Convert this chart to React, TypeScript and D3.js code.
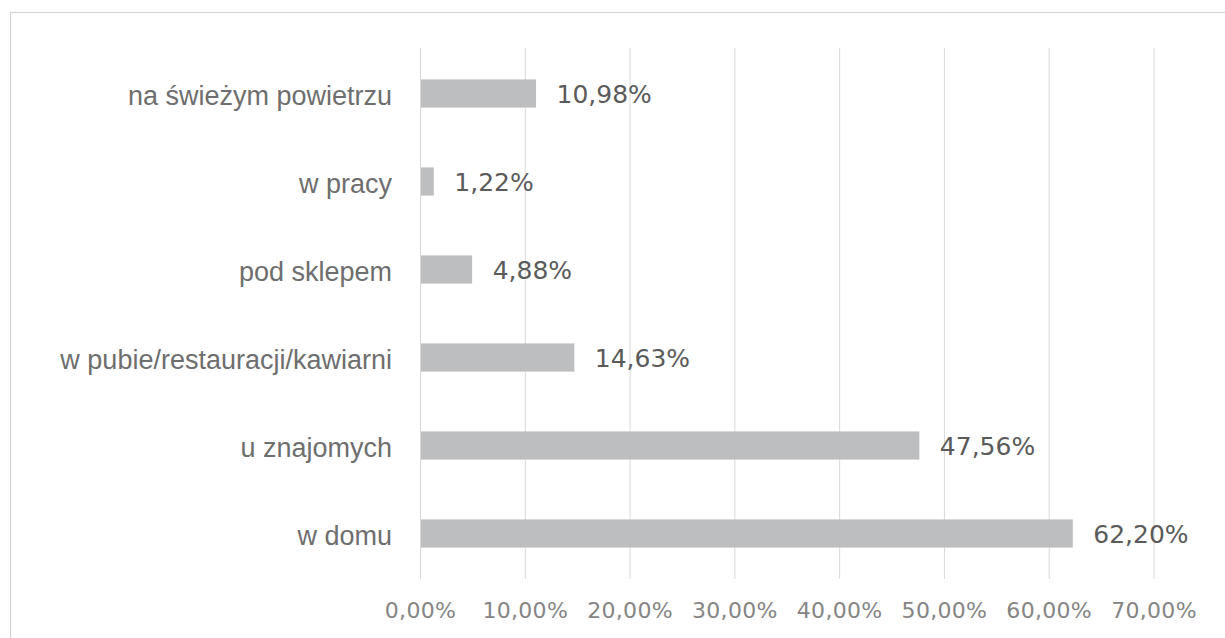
import React from 'react';
import * as d3 from 'd3';

const categories = [
    "na świeżym powietrzu",
    "w pracy",
    "pod sklepem",
    "w pubie/restauracji/kawiarni",
    "u znajomych",
    "w domu",
];
const shares = [10.98, 1.22, 4.88, 14.63, 47.56, 62.20];
const tickValues = [0, 10, 20, 30, 40, 50, 60, 70];

const width = 1225;
const height = 638;
const margin = {top: 49.5, right: 71, bottom: 60.5, left: 420.5};

const fmt = (v: number) => v.toFixed(2).replace('.', ',') + '%';

export default function App() {
    const x = d3.scaleLinear()
        .domain([0, 70])
        .range([margin.left, width - margin.right]);

    const y = d3.scaleBand<string>()
        .domain(categories)
        .range([margin.top, height - margin.bottom])
        .paddingInner(0.68)
        .paddingOuter(0.34);

    const labelFont = '"Liberation Sans", Arial, sans-serif';
    const numFont = '"DejaVu Sans", Verdana, sans-serif';

    return (
        <div style={{position: 'absolute', left: 0, top: 0}}>
            <svg width={width} height={height} style={{display: 'block', background: '#fff'}}>
                {/* chart frame */}
                <rect x={10.5} y={12.5} width={1230} height={650} fill="none" stroke="#d4d4d4" strokeWidth={1.2}/>

                {/* grid */}
                <g>
                    {tickValues.map(t => (
                        <line key={t} x1={x(t)} x2={x(t)} y1={48} y2={579} stroke="#d9d9d9" strokeWidth={1}/>
                    ))}
                </g>

                {/* bars */}
                <g>
                    {categories.map((c, i) => (
                        <rect key={c} x={x(0) + 0.5} y={y(c)} width={x(shares[i]) - x(0)} height={y.bandwidth()} fill="#bdbebf"/>
                    ))}
                </g>

                {/* value labels */}
                <g style={{fontFamily: numFont, fontSize: 25}} fill="#5a5a5a">
                    {categories.map((c, i) => (
                        <text key={c} x={x(shares[i]) + 21} y={(y(c) ?? 0) + y.bandwidth() / 2 + 9.5}>
                            {fmt(shares[i])}
                        </text>
                    ))}
                </g>

                {/* category labels */}
                <g style={{fontFamily: labelFont, fontSize: 27}} fill="#6e6e6e" textAnchor="end">
                    {categories.map(c => (
                        <text key={c} x={392} y={(y(c) ?? 0) + y.bandwidth() / 2 + 11}>
                            {c}
                        </text>
                    ))}
                </g>

                {/* x axis tick labels */}
                <g style={{fontFamily: numFont, fontSize: 22, letterSpacing: 0.3}} fill="#858585" textAnchor="middle">
                    {tickValues.map(t => (
                        <text key={t} x={x(t)} y={618}>{fmt(t)}</text>
                    ))}
                </g>
            </svg>
        </div>
    );
}
